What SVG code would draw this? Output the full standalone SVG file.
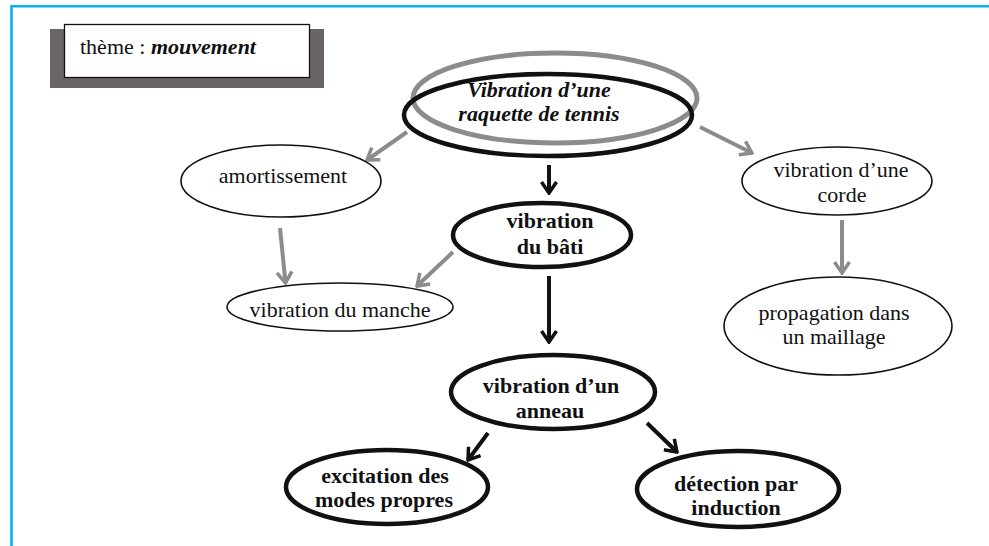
<svg xmlns="http://www.w3.org/2000/svg" width="989" height="546" viewBox="0 0 989 546">
  <style>
    text { font-family: "Liberation Serif", "Times New Roman", serif; font-size: 22px; fill: #111; text-anchor: middle; }
    .b { font-weight: bold; }
    .bi { font-weight: bold; font-style: italic; }
    .thin { fill: #fff; stroke: #111; stroke-width: 1.6; }
    .thick { fill: #fff; stroke: #111; stroke-width: 4.5; }
    .gray { stroke: #8c8c8c; stroke-width: 4; fill: none; marker-end: url(#headGray); }
    .black { stroke: #111; stroke-width: 4; fill: none; marker-end: url(#headBlack); }
  </style>
  <defs>
    <marker id="headGray" markerUnits="userSpaceOnUse" viewBox="-14 -10 16 20" refX="0" refY="0" markerWidth="16" markerHeight="20" orient="auto">
      <path d="M-11,-7.5 L0,0 L-11,7.5" fill="none" stroke="#8c8c8c" stroke-width="3.5" stroke-linejoin="miter"/>
    </marker>
    <marker id="headBlack" markerUnits="userSpaceOnUse" viewBox="-14 -10 16 20" refX="0" refY="0" markerWidth="16" markerHeight="20" orient="auto">
      <path d="M-11,-7.5 L0,0 L-11,7.5" fill="none" stroke="#111" stroke-width="3.5" stroke-linejoin="miter"/>
    </marker>
  </defs>

  <rect width="989" height="546" fill="#fff"/>
  <!-- frame -->
  <path d="M11.5,546 V6.2 H989" fill="none" stroke="#0cb0ee" stroke-width="2.6"/>

  <!-- theme label -->
  <g id="theme">
    <rect x="50" y="29" width="274" height="59" fill="#6b6464"/>
    <rect x="64.5" y="24.5" width="245" height="53" fill="#fff" stroke="#111" stroke-width="1.3"/>
    <text x="80" y="54" style="text-anchor:start;font-size:22px">thème : <tspan class="bi">mouvement</tspan></text>
  </g>

  <g id="connectors">
    <line class="gray" x1="407" y1="132" x2="367" y2="160"/>
    <line class="gray" x1="700" y1="127" x2="752" y2="153"/>
    <line class="gray" x1="280" y1="228" x2="285.5" y2="283"/>
    <line class="gray" x1="453" y1="252" x2="417" y2="286"/>
    <line class="gray" x1="842" y1="220" x2="842" y2="273"/>
    <line class="black" x1="549" y1="165" x2="549" y2="193"/>
    <line class="black" x1="549" y1="276" x2="549" y2="342"/>
    <line class="black" x1="488" y1="433" x2="468" y2="460"/>
    <line class="black" x1="647" y1="423" x2="677" y2="452"/>
  </g>

  <g id="raquette">
    <ellipse cx="555" cy="98" rx="142" ry="45" fill="#fff" stroke="#8c8c8c" stroke-width="5"/>
    <ellipse cx="548" cy="115" rx="144" ry="41" fill="none" stroke="#111" stroke-width="4.5"/>
    <text class="bi" x="539" y="97">Vibration d’une</text>
    <text class="bi" x="539" y="121">raquette de tennis</text>
  </g>

  <g id="amortissement">
    <ellipse class="thin" cx="281" cy="181" rx="100" ry="36"/>
    <text x="283" y="183">amortissement</text>
  </g>

  <g id="corde">
    <ellipse class="thin" cx="837" cy="181" rx="95" ry="34"/>
    <text x="841" y="177">vibration d’une</text>
    <text x="842" y="202">corde</text>
  </g>

  <g id="bati">
    <ellipse class="thick" cx="542" cy="235" rx="89" ry="32"/>
    <text class="b" x="550" y="228">vibration</text>
    <text class="b" x="550" y="254">du bâti</text>
  </g>

  <g id="manche">
    <ellipse class="thin" cx="340" cy="307" rx="113" ry="24"/>
    <text x="340" y="317">vibration du manche</text>
  </g>

  <g id="propagation">
    <ellipse class="thin" cx="838" cy="326" rx="114" ry="49"/>
    <text x="834" y="320">propagation dans</text>
    <text x="834" y="344">un maillage</text>
  </g>

  <g id="anneau">
    <ellipse class="thick" cx="553" cy="392" rx="102" ry="37"/>
    <text class="b" x="551" y="393">vibration d’un</text>
    <text class="b" x="550" y="418">anneau</text>
  </g>

  <g id="excitation">
    <ellipse class="thick" cx="387" cy="487" rx="101" ry="37"/>
    <text class="b" x="385" y="483">excitation des</text>
    <text class="b" x="384" y="507">modes propres</text>
  </g>

  <g id="detection">
    <ellipse class="thick" cx="738" cy="489" rx="101" ry="38"/>
    <text class="b" x="736" y="491">détection par</text>
    <text class="b" x="736" y="515">induction</text>
  </g>
</svg>
